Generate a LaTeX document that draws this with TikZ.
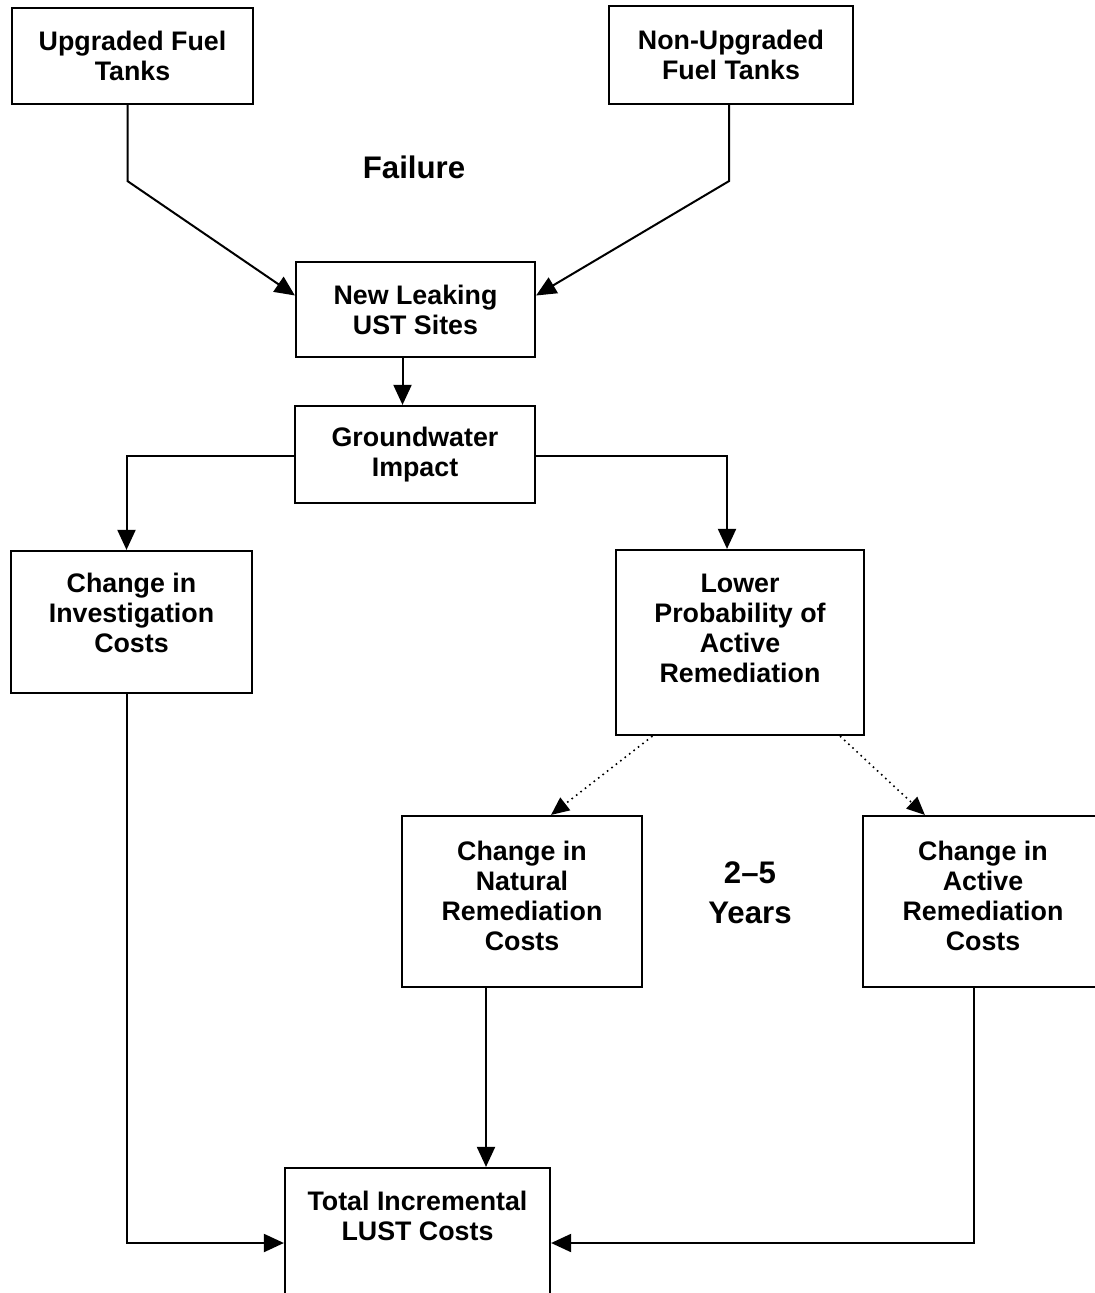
\documentclass[tikz,border=0pt]{standalone}
\usepackage{fontspec}
\setmainfont{Liberation Sans}
\usetikzlibrary{arrows.meta}
\usetikzlibrary{calc}

\tikzset{
  box/.style={draw, line width=1.1pt, align=center, inner sep=0pt,
    font=\fontsize{13.4}{15}\selectfont\bfseries},
  big/.style={align=center, font=\fontsize{15.6}{20}\selectfont\bfseries},
  arr/.style={line width=1pt, -{Triangle[length=10pt,width=9pt]}},
  darr/.style={line width=0.8pt, dotted, -{Triangle[length=9pt,width=8pt]}}
}

\begin{document}
\begin{tikzpicture}[x=0.5pt,y=-0.5pt]
      \useasboundingbox (0,0) rectangle (1094,1293);

      \node[box, minimum width=120.5pt, minimum height=48pt] (up) at (132.5,56) {Upgraded Fuel\\Tanks};
      \node[box, minimum width=122pt, minimum height=49pt] (nonup) at (731,55) {Non-Upgraded\\Fuel Tanks};
      \node[big] (failure) at (414,167) {Failure};
      \node[box, minimum width=119.5pt, minimum height=47.5pt] (leak) at (415.5,309.5) {New Leaking\\UST Sites};
      \node[box, minimum width=120pt, minimum height=48.5pt] (gw) at (415,454.5) {Groundwater\\Impact};
      \node[box, minimum width=120.5pt, minimum height=71pt, text depth=9pt] (inv) at (131.5,622) {Change in\\Investigation\\Costs};
      \node[box, minimum width=124pt, minimum height=92.5pt, text depth=14pt] (low) at (740,642.5) {Lower\\Probability of\\Active\\Remediation};
      \node[box, minimum width=120pt, minimum height=85.5pt, text depth=6pt] (nat) at (522,901.5) {Change in\\Natural\\Remediation\\Costs};
      \node[big] (years) at (750,893) {2--5\\Years};
      \node[box, minimum width=120pt, minimum height=85.5pt, text depth=6pt] (act) at (983,901.5) {Change in\\Active\\Remediation\\Costs};
      \node[box, minimum width=132.5pt, minimum height=75pt, text depth=27pt] (total) at (417.5,1243) {Total Incremental\\LUST Costs};

      \draw[arr] ([xshift=-2.5pt]up.south) -- ++(0,76) -- ([yshift=7pt]leak.west);
      \draw[arr] ([xshift=-1pt]nonup.south) -- ++(0,76) -- ([yshift=7pt]leak.east);
      \draw[arr] ([xshift=-6.5pt]leak.south) -- ([xshift=-6.5pt]leak.south |- gw.north);
      \draw[arr] ([yshift=-1pt]gw.west) -| ([xshift=-2.5pt]inv.north);
      \draw[arr] ([yshift=-1pt]gw.east) -| ([xshift=-6.5pt]low.north);
      \draw[darr] ($(low.south)!0.7!(low.south west)$) -- ($(nat.north)!0.24!(nat.north east)$);
      \draw[darr] ($(low.south)!0.8!(low.south east)$) -- ($(act.north)!0.48!(act.north west)$);
      \draw[arr] ([xshift=-2.5pt]inv.south) |- (total.west);
      \draw[arr] ([xshift=-18pt]nat.south) -- ([xshift=-18pt]nat.south |- total.north);
      \draw[arr] ([xshift=-4.5pt]act.south) |- (total.east);
  \end{tikzpicture}
\end{document}
